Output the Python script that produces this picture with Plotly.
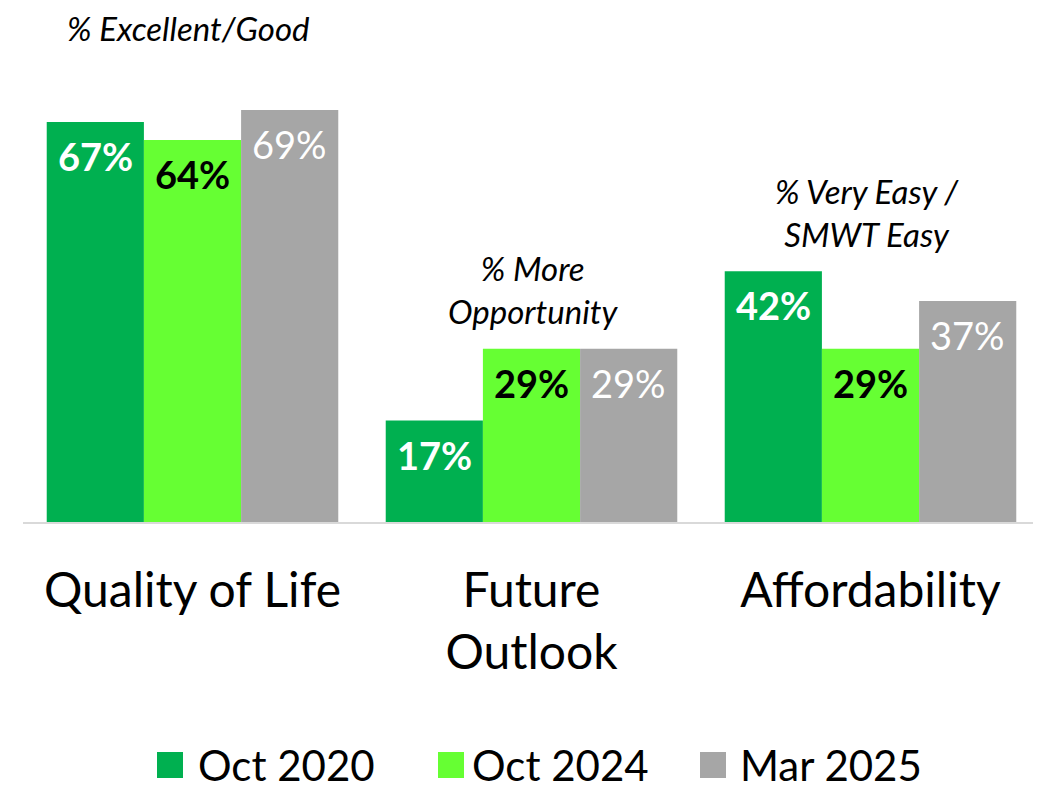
import plotly.graph_objects as go

categories = ["Quality of Life", "Future<br>Outlook", "Affordability"]
series_names = ["Oct 2020", "Oct 2024", "Mar 2025"]
oct2020 = [67, 17, 42]
oct2024 = [64, 29, 29]
mar2025 = [69, 29, 37]
series_values = [oct2020, oct2024, mar2025]
group_notes = ["% Excellent/Good", "% More<br>Opportunity", "% Very Easy /<br>SMWT Easy"]

colors = ["#00B050", "#66FF33", "#A6A6A6"]
label_colors = ["white", "black", "white"]
label_bold = [True, True, False]
FONT = "Lato"

# page has 8px body margin; figure sized to fill the rest of the window
OFF = 8
W, H = 1041 - OFF, 792 - OFF
ML, MR, MT, MB = 23 - OFF, 1, 0, 270
BARGAP = 0.14
plot_w = W - ML - MR
plot_h = H - MT - MB
YMAX = plot_h / 5.97

fig = go.Figure()
for name, vals, col in zip(series_names, series_values, colors):
    fig.add_trace(go.Bar(x=categories, y=vals, name=name, marker_color=col,
                         marker_line_width=0, showlegend=False, hoverinfo="skip"))

bw = (1 - BARGAP) / 3
annotations = []
for j, vals in enumerate(series_values):
    for i, v in enumerate(vals):
        txt = f"{v}%"
        if label_bold[j]:
            txt = f"<b>{txt}</b>"
        annotations.append(dict(x=i + (j - 1) * bw, y=v, xref="x", yref="y",
                                text=txt, showarrow=False, yanchor="top", yshift=-9,
                                font=dict(family=FONT, size=38, color=label_colors[j])))

note_y = [82.8, 38.9, 51.9]
note_xshift = [-4, 2, -4]
for i, t in enumerate(group_notes):
    annotations.append(dict(x=i, y=note_y[i], xref="x", yref="y", text=f"<i>{t}</i>",
                            showarrow=False, xshift=note_xshift[i],
                            font=dict(family=FONT, size=33, color="black")))

# manual legend (page pixel positions converted to paper coords)
leg_sq_px = [157, 438, 700]
leg_txt_px = [196, 470, 738]
leg_y_px = 765
sq = 26
shapes = []
def px2paper_x(px):
    return (px - OFF - ML) / plot_w
def px2paper_y(py):
    return (plot_h - (py - OFF - MT)) / plot_h
for k, name in enumerate(series_names):
    shapes.append(dict(type="rect", xref="paper", yref="paper",
                       x0=px2paper_x(leg_sq_px[k]), x1=px2paper_x(leg_sq_px[k] + sq),
                       y0=px2paper_y(leg_y_px - sq / 2), y1=px2paper_y(leg_y_px + sq / 2),
                       fillcolor=colors[k], line_width=0))
    annotations.append(dict(x=px2paper_x(leg_txt_px[k]), y=px2paper_y(leg_y_px),
                            xref="paper", yref="paper", text=name, showarrow=False,
                            xanchor="left", yanchor="middle",
                            font=dict(family=FONT, size=42, color="black")))

fig.update_layout(
    width=W, height=H,
    margin=dict(l=ML, r=MR, t=MT, b=MB),
    paper_bgcolor="white", plot_bgcolor="white",
    barmode="group", bargap=BARGAP, bargroupgap=0,
    annotations=annotations, shapes=shapes,
    xaxis=dict(showline=True, linecolor="#D9D9D9", linewidth=2, showgrid=False,
               ticks="", ticklabelstandoff=25,
               tickfont=dict(family=FONT, size=48, color="black")),
    yaxis=dict(range=[0, YMAX], visible=False, showgrid=False, zeroline=False),
)

fig.write_html("out.html")
